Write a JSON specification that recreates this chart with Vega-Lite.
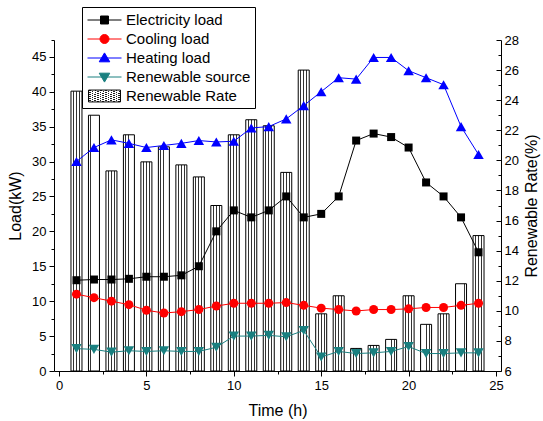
{
  "$schema": "https://vega.github.io/schema/vega-lite/v6.json",
  "width": 447,
  "height": 331,
  "autosize": {"type": "none"},
  "padding": {"left": 54, "top": 40, "right": 42, "bottom": 50},
  "background": "white",
  "config": {
    "view": {"stroke": null},
    "font": "Liberation Sans",
    "axis": {
      "grid": false,
      "domainColor": "black",
      "tickColor": "black",
      "labelColor": "black",
      "titleColor": "black",
      "labelFont": "Liberation Sans",
      "titleFont": "Liberation Sans",
      "labelFontSize": 13,
      "titleFontSize": 16,
      "titleFontWeight": "normal",
      "labelFlush": false,
      "domainWidth": 1,
      "tickWidth": 1
    }
  },
  "data": {
    "values": [
      {"h": 1, "elec": 13.0, "cool": 11.0, "heat": 30.0, "ren": 3.2, "rate": 24.6},
      {"h": 2, "elec": 13.1, "cool": 10.5, "heat": 32.0, "ren": 3.1, "rate": 23.0},
      {"h": 3, "elec": 13.1, "cool": 10.0, "heat": 33.1, "ren": 2.7, "rate": 19.3},
      {"h": 4, "elec": 13.2, "cool": 9.5, "heat": 32.6, "ren": 2.9, "rate": 21.7},
      {"h": 5, "elec": 13.5, "cool": 8.7, "heat": 32.0, "ren": 2.8, "rate": 19.9},
      {"h": 6, "elec": 13.5, "cool": 8.3, "heat": 32.3, "ren": 2.9, "rate": 20.9},
      {"h": 7, "elec": 13.7, "cool": 8.5, "heat": 32.6, "ren": 2.8, "rate": 19.7},
      {"h": 8, "elec": 15.0, "cool": 8.8, "heat": 33.0, "ren": 2.8, "rate": 18.9},
      {"h": 9, "elec": 20.0, "cool": 9.3, "heat": 32.8, "ren": 3.4, "rate": 17.0},
      {"h": 10, "elec": 23.0, "cool": 9.7, "heat": 32.9, "ren": 5.0, "rate": 21.7},
      {"h": 11, "elec": 22.0, "cool": 9.7, "heat": 34.8, "ren": 5.0, "rate": 22.7},
      {"h": 12, "elec": 23.0, "cool": 9.7, "heat": 35.0, "ren": 5.1, "rate": 22.3},
      {"h": 13, "elec": 25.0, "cool": 9.8, "heat": 36.1, "ren": 4.9, "rate": 19.2},
      {"h": 14, "elec": 22.0, "cool": 9.4, "heat": 38.0, "ren": 5.8, "rate": 26.0},
      {"h": 15, "elec": 22.5, "cool": 9.0, "heat": 40.0, "ren": 2.0, "rate": 9.8},
      {"h": 16, "elec": 25.0, "cool": 8.8, "heat": 42.0, "ren": 2.8, "rate": 11.0},
      {"h": 17, "elec": 33.0, "cool": 8.6, "heat": 41.8, "ren": 2.5, "rate": 7.5},
      {"h": 18, "elec": 34.0, "cool": 8.8, "heat": 44.9, "ren": 2.6, "rate": 7.7},
      {"h": 19, "elec": 33.5, "cool": 8.8, "heat": 44.9, "ren": 2.8, "rate": 8.1},
      {"h": 20, "elec": 32.0, "cool": 8.9, "heat": 43.0, "ren": 3.5, "rate": 11.0},
      {"h": 21, "elec": 27.0, "cool": 9.1, "heat": 42.0, "ren": 2.5, "rate": 9.1},
      {"h": 22, "elec": 25.0, "cool": 9.1, "heat": 41.0, "ren": 2.5, "rate": 9.8},
      {"h": 23, "elec": 22.0, "cool": 9.4, "heat": 35.0, "ren": 2.6, "rate": 11.8},
      {"h": 24, "elec": 17.0, "cool": 9.7, "heat": 31.0, "ren": 2.6, "rate": 15.0}
    ]
  },
  "layer": [
    {
      "layer": [
        {
          "mark": {
            "type": "bar",
            "size": 11,
            "stroke": "black",
            "strokeWidth": 1,
            "fill": {
              "gradient": "linear",
              "x1": 0, "y1": 0, "x2": 1, "y2": 0,
              "stops": [
                {"offset": 0, "color": "white"},
                {"offset": 0.18, "color": "white"},
                {"offset": 0.18, "color": "#333333"},
                {"offset": 0.26, "color": "#333333"},
                {"offset": 0.26, "color": "white"},
                {"offset": 0.46, "color": "white"},
                {"offset": 0.46, "color": "#333333"},
                {"offset": 0.54, "color": "#333333"},
                {"offset": 0.54, "color": "white"},
                {"offset": 0.74, "color": "white"},
                {"offset": 0.74, "color": "#333333"},
                {"offset": 0.82, "color": "#333333"},
                {"offset": 0.82, "color": "white"},
                {"offset": 1, "color": "white"}
              ]
            }
          },
          "encoding": {
            "x": {"field": "h", "type": "quantitative", "scale": {"domain": [0, 25], "nice": false, "zero": false}, "axis": null},
            "y": {
              "field": "rate", "type": "quantitative",
              "scale": {"domain": [6, 28], "nice": false, "zero": false},
              "axis": {
                "orient": "right",
                "values": [6, 8, 10, 12, 14, 16, 18, 20, 22, 24, 26, 28],
                "tickSize": -5,
                "labelPadding": 8,
                "title": "Renewable Rate(%)",
                "titleAngle": 270,
                "titleBaseline": "top",
                "titlePadding": 5
              }
            },
            "y2": {"datum": 6}
          }
        },
        {
          "mark": {"type": "point", "opacity": 0},
          "encoding": {
            "x": {"field": "h", "type": "quantitative", "axis": null},
            "y": {
              "field": "rate", "type": "quantitative",
              "axis": {
                "orient": "right",
                "values": [7, 9, 11, 13, 15, 17, 19, 21, 23, 25, 27],
                "tickSize": -3,
                "labels": false,
                "domain": false,
                "title": null
              }
            }
          }
        }
      ],
      "resolve": {"axis": {"y": "independent"}}
    },
    {
      "layer": [
        {
          "transform": [{"fold": ["elec", "cool", "heat", "ren"], "as": ["s", "v"]}],
          "mark": {"type": "line", "strokeWidth": 1},
          "encoding": {
            "x": {
              "field": "h", "type": "quantitative",
              "scale": {"domain": [0, 25], "nice": false, "zero": false},
              "axis": {
                "orient": "bottom",
                "values": [0, 5, 10, 15, 20, 25],
                "tickSize": 5,
                "labelPadding": 3,
                "title": "Time (h)",
                "titlePadding": 10
              }
            },
            "y": {
              "field": "v", "type": "quantitative",
              "scale": {"domain": [0, 47.4], "nice": false, "zero": false},
              "axis": {
                "orient": "left",
                "values": [0, 5, 10, 15, 20, 25, 30, 35, 40, 45],
                "tickSize": 5,
                "labelPadding": 3,
                "title": "Load(kW)",
                "titlePadding": 8
              }
            },
            "color": {
              "field": "s", "type": "nominal",
              "scale": {
                "domain": ["elec", "cool", "heat", "ren", "rate"],
                "range": ["#000000", "#ff0000", "#0000ff", "#1a8080", "#000000"]
              },
              "legend": {
                "title": null,
                "orient": "none",
                "legendX": 28,
                "legendY": -33,
                "labelExpr": "datum.label == 'elec' ? 'Electricity load' : datum.label == 'cool' ? 'Cooling load' : datum.label == 'heat' ? 'Heating load' : datum.label == 'ren' ? 'Renewable source' : 'Renewable Rate'",
                "labelFont": "Liberation Sans",
                "labelFontSize": 15,
                "labelColor": "black",
                "symbolSize": 289,
                "symbolOffset": 9.5,
                "labelOffset": 12.5,
                "padding": 4,
                "rowPadding": 2,
                "strokeColor": "black",
                "fillColor": "white",
                "encode": {
                  "symbols": {
                    "update": {
                      "shape": [
                        {"test": "datum.value === 'elec'", "value": "M-2,0L2,0M-0.47,-0.47L0.47,-0.47L0.47,0.47L-0.47,0.47Z"},
                        {"test": "datum.value === 'cool'", "value": "M-2,0L2,0M-0.53,0A0.53,0.53,0,1,0,0.53,0A0.53,0.53,0,1,0,-0.53,0Z"},
                        {"test": "datum.value === 'heat'", "value": "M-2,0L2,0M0,-0.6L0.62,0.45L-0.62,0.45Z"},
                        {"test": "datum.value === 'ren'", "value": "M-2,0L2,0M0,0.6L0.62,-0.45L-0.62,-0.45Z"},
                        {"value": "M-1.88,-0.7L1.88,-0.7L1.88,0.7L-1.88,0.7Z"}
                      ],
                      "fill": [
                        {
                          "test": "datum.value === 'rate'",
                          "value": {
                            "gradient": "linear",
                            "x1": 0, "y1": 0, "x2": 1, "y2": 1,
                            "stops": [
                              {"offset": 0, "color": "white"},
                              {"offset": 0.03, "color": "white"},
                              {"offset": 0.03, "color": "#222222"},
                              {"offset": 0.055, "color": "#222222"},
                              {"offset": 0.055, "color": "white"},
                              {"offset": 0.113, "color": "white"},
                              {"offset": 0.113, "color": "#222222"},
                              {"offset": 0.138, "color": "#222222"},
                              {"offset": 0.138, "color": "white"},
                              {"offset": 0.197, "color": "white"},
                              {"offset": 0.197, "color": "#222222"},
                              {"offset": 0.222, "color": "#222222"},
                              {"offset": 0.222, "color": "white"},
                              {"offset": 0.28, "color": "white"},
                              {"offset": 0.28, "color": "#222222"},
                              {"offset": 0.305, "color": "#222222"},
                              {"offset": 0.305, "color": "white"},
                              {"offset": 0.363, "color": "white"},
                              {"offset": 0.363, "color": "#222222"},
                              {"offset": 0.388, "color": "#222222"},
                              {"offset": 0.388, "color": "white"},
                              {"offset": 0.447, "color": "white"},
                              {"offset": 0.447, "color": "#222222"},
                              {"offset": 0.472, "color": "#222222"},
                              {"offset": 0.472, "color": "white"},
                              {"offset": 0.53, "color": "white"},
                              {"offset": 0.53, "color": "#222222"},
                              {"offset": 0.555, "color": "#222222"},
                              {"offset": 0.555, "color": "white"},
                              {"offset": 0.613, "color": "white"},
                              {"offset": 0.613, "color": "#222222"},
                              {"offset": 0.638, "color": "#222222"},
                              {"offset": 0.638, "color": "white"},
                              {"offset": 0.697, "color": "white"},
                              {"offset": 0.697, "color": "#222222"},
                              {"offset": 0.722, "color": "#222222"},
                              {"offset": 0.722, "color": "white"},
                              {"offset": 0.78, "color": "white"},
                              {"offset": 0.78, "color": "#222222"},
                              {"offset": 0.805, "color": "#222222"},
                              {"offset": 0.805, "color": "white"},
                              {"offset": 0.863, "color": "white"},
                              {"offset": 0.863, "color": "#222222"},
                              {"offset": 0.888, "color": "#222222"},
                              {"offset": 0.888, "color": "white"},
                              {"offset": 0.947, "color": "white"},
                              {"offset": 0.947, "color": "#222222"},
                              {"offset": 0.972, "color": "#222222"},
                              {"offset": 0.972, "color": "white"},
                              {"offset": 1, "color": "white"}
                            ]
                          }
                        },
                        {"scale": "color", "field": "value"}
                      ],
                      "stroke": {"scale": "color", "field": "value"},
                      "strokeWidth": {"value": 1},
                      "opacity": {"value": 1}
                    }
                  }
                }
              }
            }
          }
        },
        {
          "mark": {"type": "point", "filled": true, "opacity": 1, "shape": "square", "size": 64, "color": "#000000"},
          "encoding": {
            "x": {
              "field": "h", "type": "quantitative",
              "axis": {"orient": "bottom", "values": [2.5, 7.5, 12.5, 17.5, 22.5], "tickSize": 3, "labels": false, "domain": false, "title": null}
            },
            "y": {
              "field": "elec", "type": "quantitative",
              "axis": {"orient": "left", "values": [2.5, 7.5, 12.5, 17.5, 22.5, 27.5, 32.5, 37.5, 42.5, 47.4], "tickSize": 3, "labels": false, "domain": false, "title": null}
            }
          }
        },
        {
          "mark": {"type": "point", "filled": true, "opacity": 1, "shape": "circle", "size": 81, "color": "#ff0000"},
          "encoding": {
            "x": {"field": "h", "type": "quantitative", "axis": null},
            "y": {"field": "cool", "type": "quantitative", "axis": null}
          }
        },
        {
          "mark": {"type": "point", "filled": true, "opacity": 1, "shape": "triangle-up", "size": 110, "color": "#0000ff"},
          "encoding": {
            "x": {"field": "h", "type": "quantitative", "axis": null},
            "y": {"field": "heat", "type": "quantitative", "axis": null}
          }
        },
        {
          "mark": {"type": "point", "filled": true, "opacity": 1, "shape": "triangle-down", "size": 110, "color": "#1a8080"},
          "encoding": {
            "x": {"field": "h", "type": "quantitative", "axis": null},
            "y": {"field": "ren", "type": "quantitative", "axis": null}
          }
        }
      ],
      "resolve": {"axis": {"x": "independent", "y": "independent"}}
    }
  ],
  "resolve": {"scale": {"y": "independent"}}
}
